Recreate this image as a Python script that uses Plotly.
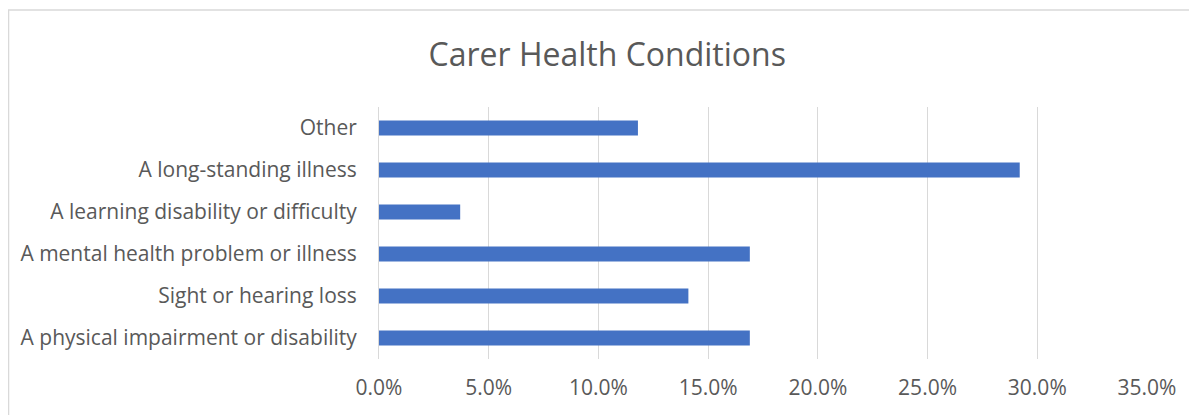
import plotly.graph_objects as go

conditions = [
    "A physical impairment or disability",
    "Sight or hearing loss",
    "A mental health problem or illness",
    "A learning disability or difficulty",
    "A long-standing illness",
    "Other",
]
shares = [0.169, 0.141, 0.169, 0.037, 0.292, 0.118]
ticks = [0, 0.05, 0.10, 0.15, 0.20, 0.25, 0.30, 0.35]

fig = go.Figure(go.Bar(
    x=shares, y=conditions, orientation='h',
    marker=dict(color='#4472C4', line=dict(width=0)),
    width=0.36,
))

# page body has an 8px margin, so the figure is sized/positioned to compensate
fig.update_layout(
    width=1189, height=407,
    margin=dict(l=371, r=50, t=99, b=56),
    paper_bgcolor='white', plot_bgcolor='white',
    font=dict(family='Open Sans', color='#595959', size=21),
    title=dict(text='Carer Health Conditions', x=0.504, xanchor='center',
               y=0.8845, yanchor='middle', font=dict(size=32, color='#595959')),
    showlegend=False,
    xaxis=dict(range=[0, 0.35], tickvals=ticks, tickformat='.1%',
               showgrid=True, gridcolor='#d9d9d9', gridwidth=1,
               zeroline=False, showline=False, ticks='', ticklabelstandoff=14),
    yaxis=dict(showgrid=False, zeroline=False, showline=True, linecolor='#d9d9d9',
               ticks='', ticklabelstandoff=17),
    shapes=[dict(type='rect', xref='paper', yref='paper',
                 x0=-0.4824, x1=1.1, y0=-0.3, y1=1.385,
                 line=dict(color='#d9d9d9', width=1.5), layer='below')],
)

fig.write_html("out.html")
